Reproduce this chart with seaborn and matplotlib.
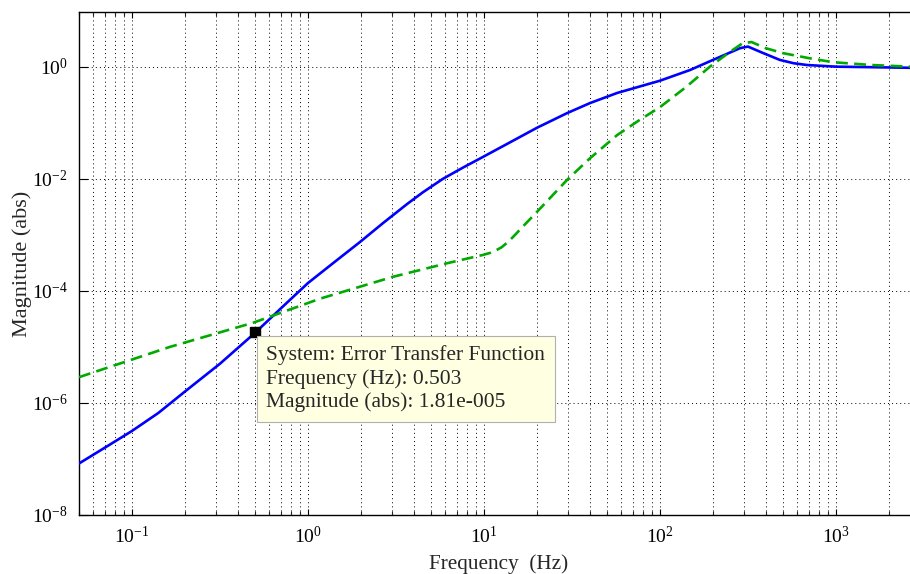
import math
import matplotlib
matplotlib.use("Agg")
import matplotlib.pyplot as plt
import seaborn as sns
import pandas as pd
from matplotlib.ticker import FixedLocator, FuncFormatter, NullLocator, NullFormatter

# ---- data (Hz, absolute magnitude) ----
blue_freq = [0.05, 0.0708, 0.1, 0.141, 0.205, 0.316, 0.503, 0.708, 1.0, 1.41,
             1.97, 2.67, 3.66, 4.5, 5.85, 7.59, 9.86, 13.5, 20.0, 29.6,
             40.0, 57.0, 79.4, 100.0, 148.0, 200.0, 285.0, 316.0, 380.0, 479.0,
             575.0, 684.0, 1000.0, 1250.0, 2630.0]
blue_mag = [8.3e-8, 1.62e-7, 3.16e-7, 6.6e-7, 1.70e-6, 5.0e-6, 1.81e-5, 5.0e-5, 1.38e-4, 3.24e-4,
            7.4e-4, 1.62e-3, 3.55e-3, 5.75e-3, 0.0100, 0.0158, 0.0245, 0.0417, 0.0813, 0.148,
            0.224, 0.339, 0.457, 0.562, 0.871, 1.32, 2.14, 2.28, 1.78, 1.32,
            1.15, 1.07, 1.0, 0.99, 0.955]

green_freq = [0.05, 0.1644, 0.487, 1.17, 3.04, 6.31, 9.86, 11.2, 12.6, 13.5,
              14.6, 17.0, 20.0, 29.6, 39.8, 57.0, 75.9, 100.0, 141.0, 192.0,
              251.0, 295.0, 331.0, 398.0, 501.0, 708.0, 962.0, 1585.0, 2630.0]
green_mag = [2.88e-6, 1.0e-5, 2.69e-5, 7.24e-5, 1.78e-4, 3.16e-4, 4.37e-4, 4.9e-4, 6.0e-4, 7.2e-4,
             9.1e-4, 1.51e-3, 2.57e-3, 9.5e-3, 0.0229, 0.060, 0.110, 0.19, 0.437, 1.0,
             1.86, 2.63, 2.75, 2.14, 1.74, 1.41, 1.20, 1.07, 1.0]

tip_freq = 0.503
tip_mag = 1.81e-5
tip_lines = ["System: Error Transfer Function",
             "Frequency (Hz): 0.503",
             "Magnitude (abs): 1.81e-005"]

x_major = [0.1, 1, 10, 100, 1000]
y_major = [1e-8, 1e-6, 1e-4, 1e-2, 1]
x_label = "Frequency  (Hz)"
y_label = "Magnitude (abs)"

sns.set_style("white")
plt.rcParams["font.family"] = ["Liberation Serif", "DejaVu Serif"]
plt.rcParams["mathtext.fontset"] = "custom"
plt.rcParams["mathtext.rm"] = "Liberation Serif"
plt.rcParams["mathtext.it"] = "Liberation Serif:italic"
plt.rcParams["axes.unicode_minus"] = False

fig = plt.figure(figsize=(9.1, 5.74), dpi=100)
fig.patch.set_facecolor("white")
ax = fig.add_axes([79 / 910, 59 / 574, 1 - 79 / 910, 502.7 / 574])
ax.set_facecolor("white")

blue_df = pd.DataFrame({"f": blue_freq, "m": blue_mag})
green_df = pd.DataFrame({"f": green_freq, "m": green_mag})

sns.lineplot(data=blue_df, x="f", y="m", ax=ax, color="#0000ff", linewidth=1.9,
             sort=False, zorder=3)
sns.lineplot(data=green_df, x="f", y="m", ax=ax, color="#00aa00", linewidth=1.9,
             sort=False, linestyle=(0, (4.5, 2.4)), zorder=3)

ax.set_xscale("log")
ax.set_yscale("log")
xmin, xmax = 0.05, 10 ** 3.42
ax.set_xlim(xmin, xmax)
ax.set_ylim(1e-8, 10 ** 0.97)

fmt = FuncFormatter(lambda v, p: r"$\mathdefault{10^{%d}}$" % round(math.log10(v)))
x_minor = [m * 10.0 ** e for e in range(-2, 4) for m in range(2, 10)
           if xmin <= m * 10.0 ** e <= xmax]
ax.xaxis.set_major_locator(FixedLocator(x_major))
ax.xaxis.set_minor_locator(FixedLocator(x_minor))
ax.xaxis.set_major_formatter(fmt)
ax.xaxis.set_minor_formatter(NullFormatter())
ax.yaxis.set_major_locator(FixedLocator(y_major))
ax.yaxis.set_minor_locator(NullLocator())
ax.yaxis.set_major_formatter(fmt)

grid_style = dict(color="black", linestyle=(0, (1, 3.2)), linewidth=0.7)
ax.grid(True, which="major", axis="both", **grid_style)
ax.grid(True, which="minor", axis="x", **grid_style)

ax.tick_params(axis="x", which="major", direction="in", length=4.5, width=0.8,
               top=True, bottom=True, labelsize=14, pad=8, colors="black")
ax.tick_params(axis="x", which="minor", direction="in", length=3, width=0.8,
               top=True, bottom=True)
ax.tick_params(axis="y", which="major", direction="in", length=6.5, width=0.8,
               left=True, right=False, labelsize=14, pad=8, colors="black")

for side in ["left", "bottom", "top"]:
    ax.spines[side].set_visible(True)
    ax.spines[side].set_color("black")
    ax.spines[side].set_linewidth(1.0)
ax.spines["right"].set_visible(False)

ax.set_xlabel(x_label, fontsize=15.3)
ax.set_ylabel(y_label, fontsize=16)
ax.xaxis.set_label_coords(0.505, -0.0975)
ax.xaxis.label.set_va("center")
ax.yaxis.set_label_coords(-0.0686, 0.5)
ax.yaxis.label.set_va("center")

# data tip
ax.plot([tip_freq], [tip_mag], marker="s", markersize=7, color="black",
        linestyle="none", zorder=5)
ax.annotate("\n".join(tip_lines), xy=(tip_freq, tip_mag), xytext=(11, -13),
            textcoords="offset pixels", ha="left", va="top", fontsize=15.5,
            linespacing=1.26, zorder=6,
            bbox=dict(boxstyle="square,pad=0.45", fc="#ffffe1", ec="#b0b0b0", lw=0.8))

fig.savefig("out.png", dpi=100)
